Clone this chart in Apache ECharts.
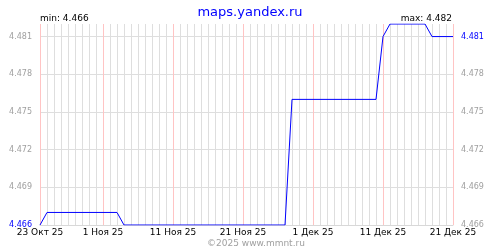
<!DOCTYPE html>
<html><head><meta charset="utf-8">
<script src="https://cdn.jsdelivr.net/npm/echarts@6/dist/echarts.min.js"></script>
<style>html,body{margin:0;padding:0;background:#fff}#c{width:500px;height:250px}</style>
</head><body><div id="c"></div>
<script>
const days = [
 '23.10','24.10','25.10','26.10','27.10','28.10','29.10','30.10','31.10',
 '01.11','02.11','03.11','04.11','05.11','06.11','07.11','08.11','09.11','10.11',
 '11.11','12.11','13.11','14.11','15.11','16.11','17.11','18.11','19.11','20.11',
 '21.11','22.11','23.11','24.11','25.11','26.11','27.11','28.11','29.11','30.11',
 '01.12','02.12','03.12','04.12','05.12','06.12','07.12','08.12','09.12','10.12',
 '11.12','12.12','13.12','14.12','15.12','16.12','17.12','18.12','19.12','20.12','21.12'
];
const values = [
 4.466,
 4.467,4.467,4.467,4.467,4.467,4.467,4.467,4.467,4.467,4.467,4.467,
 4.466,4.466,4.466,4.466,4.466,4.466,4.466,4.466,4.466,4.466,4.466,4.466,
 4.466,4.466,4.466,4.466,4.466,4.466,4.466,4.466,4.466,4.466,4.466,4.466,
 4.476,4.476,4.476,4.476,4.476,4.476,4.476,4.476,4.476,4.476,4.476,4.476,4.476,
 4.481,
 4.482,4.482,4.482,4.482,4.482,4.482,
 4.481,4.481,4.481,4.481
];
const tickLabels = {
 '23.10':'23 Окт 25','01.11':'1 Ноя 25','11.11':'11 Ноя 25','21.11':'21 Ноя 25',
 '01.12':'1 Дек 25','11.12':'11 Дек 25','21.12':'21 Дек 25'
};
const titleText = 'maps.yandex.ru';
const footerText = '©2025 www.mmnt.ru';

const yMin = 4.466, yMax = 4.482, yStep = 0.003;
const minV = Math.min(...values), maxV = Math.max(...values);
const firstV = values[0], lastV = values[values.length - 1];
const FONT = 'DejaVu Sans';
const isLab = (i) => tickLabels[days[i]] !== undefined;
const near = (a, b) => Math.abs(a - b) < 1e-7;

const chart = echarts.init(document.getElementById('c'), null, {renderer: 'canvas'});
const yCommon = {
  type: 'value', min: yMin, max: yMax, interval: yStep,
  axisLine: {show: false}, axisTick: {show: false}
};
chart.setOption({
  animation: false,
  backgroundColor: '#fff',
  title: {
    text: titleText, left: 'center', top: 1,
    textStyle: {color: '#0000ff', fontFamily: FONT, fontSize: 13, fontWeight: 'normal'}
  },
  grid: {left: 40, right: 47, top: 24, bottom: 25, containLabel: false},
  xAxis: [{
    type: 'category', data: days, boundaryGap: false,
    axisLine: {show: true, lineStyle: {color: '#d8d8d8'}},
    axisTick: {show: false},
    axisLabel: {
      interval: (i) => isLab(i), margin: 3,
      formatter: (v) => tickLabels[v] || '',
      color: '#000', fontFamily: FONT, fontSize: 9,
      showMinLabel: true, showMaxLabel: true, hideOverlap: false
    },
    splitLine: {show: true, interval: (i) => !isLab(i), lineStyle: {color: '#dedede', width: 1}}
  }, {
    type: 'category', data: days, boundaryGap: false, position: 'bottom',
    axisLine: {show: false}, axisTick: {show: false}, axisLabel: {show: false},
    splitLine: {show: true, interval: (i) => isLab(i), lineStyle: {color: '#ffc4c4', width: 1}}
  }],
  yAxis: [Object.assign({}, yCommon, {
    position: 'left',
    axisLabel: {
      margin: 8, fontFamily: FONT, fontSize: 8, showMaxLabel: false,
      formatter: (v) => (+v).toFixed(3),
      color: (v) => near(+v, firstV) ? '#0000ff' : '#a0a0a0'
    },
    splitLine: {show: true, showMaxLine: false, lineStyle: {color: '#dedede', width: 1}}
  }), Object.assign({}, yCommon, {
    position: 'right',
    axisLabel: {
      margin: 8, fontFamily: FONT, fontSize: 8, showMaxLabel: false,
      formatter: (v) => (+v).toFixed(3),
      color: (v) => near(+v, lastV) ? '#0000ff' : '#a0a0a0'
    },
    splitLine: {show: false}
  })],
  series: [{
    type: 'line', data: values, xAxisIndex: 0, yAxisIndex: 0,
    symbol: 'none', lineStyle: {color: '#0000ff', width: 1}, z: 5
  }],
  graphic: [
    {type: 'text', left: 40, top: 14, style: {text: 'min: ' + minV.toFixed(3), fill: '#000', font: '9px "DejaVu Sans"'}},
    {type: 'text', right: 48, top: 14, style: {text: 'max: ' + maxV.toFixed(3), fill: '#000', font: '9px "DejaVu Sans"'}},
    {type: 'text', left: 207, top: 239, style: {text: footerText, fill: '#a0a0a0', font: '9px "DejaVu Sans"'}}
  ]
});
</script></body></html>
